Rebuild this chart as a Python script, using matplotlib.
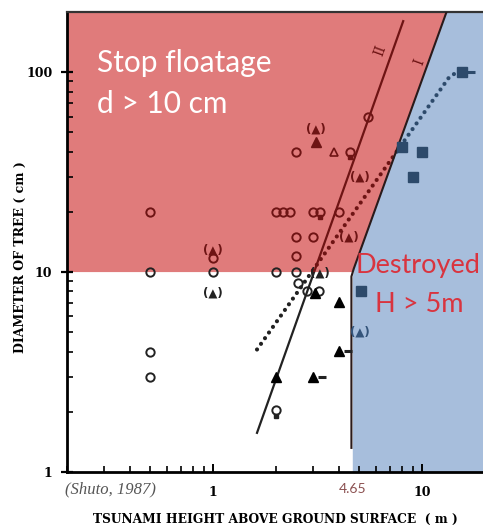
import numpy as np
import matplotlib
matplotlib.use("Agg")
import matplotlib.pyplot as plt
from matplotlib.patches import Polygon

# ---------------- data ----------------
# axis limits
x_min, x_max = 0.2, 19.5
y_min, y_max = 1.0, 200.0
H_limit = 4.65          # tsunami height threshold (m)
d_limit = 10.0          # diameter threshold (cm)
boundary_top = (13.0, 200.0)   # where the red/blue boundary meets the top

# open circles (white region -> black, red region -> dark red)
circ_blk_x = [0.5, 0.5, 0.5, 1.0, 2.0, 2.0, 2.5, 2.55, 2.8, 3.22]
circ_blk_y = [10, 4.0, 3.0, 10, 2.05, 10, 10, 8.8, 8.0, 8.0]
circ_red_x = [0.5, 1.0, 2.0, 2.15, 2.33, 3.0, 3.25, 4.0, 2.5, 3.0, 2.5, 2.5, 4.5, 5.5]
circ_red_y = [20, 11.7, 20, 20, 20, 20, 20, 20, 15, 15, 12, 40, 40, 60]

# small squares under some circles
base_x = [2.0, 3.25, 4.5]
base_y = [1.9, 18.8, 37.5]
base_c = ["#222222", "#6E1414", "#6E1414"]

# filled triangles
tri_blk_x = [2.0, 3.0, 4.0, 4.0, 3.06]
tri_blk_y = [3.0, 3.0, 4.05, 7.1, 7.9]
tri_red_x = [3.1]
tri_red_y = [45]
# open triangle
otri_x = [3.8]
otri_y = [40]

# triangles in parentheses "(▲)"
ptri_x = [1.0, 3.1, 5.0, 4.45, 1.0, 3.25, 5.0]
ptri_y = [12.9, 52, 30, 15, 7.9, 9.9, 5.0]
ptri_c = ["#6E1414", "#6E1414", "#6E1414", "#6E1414", "#222222", "#222222", "#34547A"]

# squares (destroyed)
sq_x = [5.1, 8.0, 10.0, 9.0, 15.5]
sq_y = [8.0, 42, 40, 30, 100]

# short dashes to the right of some marks
dash_x = [3.0, 4.0, 15.5]
dash_y = [3.0, 4.05, 100]
dash_c = ["#222222", "#222222", "#2D4A6B"]

# fitted lines
lineII_x = [1.62, 8.1]
lineII_y = [1.57, 180]
dotted_x = [1.62, 13.4, 14.5, 15.2]
dotted_y = [4.1, 94, 99.5, 100]
lineI_x = [4.58, 4.58, 4.70, 4.88, 13.05]
lineI_y = [1.32, 9.5, 10.4, 11.6, 200]

# ---------------- figure ----------------
W, H = 483, 527
fig = plt.figure(figsize=(W / 100, H / 100), dpi=100)
ax = fig.add_axes([67 / W, 1 - 472 / H, (W - 67) / W, (472 - 12) / H])
ax.set_xscale("log")
ax.set_yscale("log")
ax.set_xlim(x_min, x_max)
ax.set_ylim(y_min, y_max)

RED_BG = "#E07B7B"
BLUE_BG = "#A7BEDC"
DKRED = "#6E1414"
NAVY = "#2D4A6B"
BLK = "#222222"

# region polygons
corner = [(H_limit, 9.3), (4.70, 10.2), (4.87, 11.5)]
red_poly = [(x_min, d_limit), (H_limit, d_limit), (4.70, 10.2), (4.87, 11.5),
            boundary_top, (x_min, y_max)]
blue_poly = [(H_limit, y_min)] + corner + [boundary_top, (x_max, y_max), (x_max, y_min)]
white_poly = [(x_min, y_min), (H_limit, y_min), (H_limit, d_limit), (x_min, d_limit)]

ax.add_patch(Polygon(red_poly, closed=True, facecolor=RED_BG, edgecolor="none", zorder=0))
ax.add_patch(Polygon(blue_poly, closed=True, facecolor=BLUE_BG, edgecolor="none", zorder=0))


def clipped_line(xs, ys, colors, **kw):
    for poly, col in zip([white_poly, red_poly, blue_poly], colors):
        ln, = ax.plot(xs, ys, color=col, **kw)
        ln.set_clip_path(Polygon(poly, closed=True, transform=ax.transData))


# line II (solid)
clipped_line(lineII_x, lineII_y, [BLK, DKRED, DKRED], lw=1.6, zorder=3)
# dotted line
clipped_line(dotted_x, dotted_y, [BLK, DKRED, NAVY], lw=3.0, ls=(0, (0.01, 1.65)),
             dash_capstyle="round", zorder=3)
# line I
ax.plot(lineI_x, lineI_y, color="#2A1A1A", lw=1.5, zorder=3)

# markers
ms_c = 6.0
ax.plot(circ_blk_x, circ_blk_y, "o", ms=ms_c, mfc="none", mec=BLK, mew=1.4, zorder=5)
ax.plot(circ_red_x, circ_red_y, "o", ms=ms_c, mfc="none", mec=DKRED, mew=1.4, zorder=5)
for x, y, c in zip(base_x, base_y, base_c):
    ax.plot([x], [y], "s", ms=3.0, color=c, zorder=5)
ax.plot(tri_blk_x, tri_blk_y, "^", ms=6.5, color="black", zorder=6)
ax.plot(tri_red_x, tri_red_y, "^", ms=6.5, color=DKRED, zorder=6)
ax.plot(otri_x, otri_y, "^", ms=5.5, mfc="none", mec=DKRED, mew=1.2, zorder=6)
for x, y, c in zip(ptri_x, ptri_y, ptri_c):
    ax.text(x, y, "(\u25B2)", ha="center", va="center", fontsize=8.5,
            family="DejaVu Sans", fontweight="bold", color=c, zorder=6)
ax.plot(sq_x, sq_y, "s", ms=7.0, color=NAVY, zorder=6)
for x, y, c in zip(dash_x, dash_y, dash_c):
    ax.plot([x * 1.1], [y], "_", ms=6, mew=2.2, color=c, zorder=6)

# labels of lines
ax.text(6.3, 128, "II", rotation=70, ha="center", va="center", fontsize=10,
        family="DejaVu Serif", color=DKRED, zorder=7)
ax.text(9.7, 112, "I", rotation=70, ha="center", va="center", fontsize=10,
        family="DejaVu Serif", color=DKRED, zorder=7)

# region texts
fig.text(97 / W, 1 - 63 / H, "Stop floatage", color="white", fontsize=21.5,
         family="Lato", ha="left", va="center")
fig.text(97 / W, 1 - 104 / H, "d > 10 cm", color="white", fontsize=21.5,
         family="Lato", ha="left", va="center")
fig.text(356 / W, 1 - 266 / H, "Destroyed", color="#D9343F", fontsize=19.5,
         family="Lato", ha="left", va="center")
fig.text(375 / W, 1 - 304 / H, "H > 5m", color="#D9343F", fontsize=19.5,
         family="Lato", ha="left", va="center")

# axes styling
for s in ["left", "bottom"]:
    ax.spines[s].set_linewidth(2.0)
    ax.spines[s].set_color("black")
ax.spines["top"].set_linewidth(1.6)
ax.spines["top"].set_color("#333333")
ax.spines["right"].set_visible(False)

ax.set_xticks([1, 10])
ax.set_xticklabels(["1", "10"])
ax.set_yticks([1, 10, 100])
ax.set_yticklabels(["1", "10", "100"])
ax.tick_params(axis="x", which="major", direction="in", length=6, width=1.4, pad=10)
ax.tick_params(axis="x", which="minor", direction="in", length=4, width=1.2)
ax.tick_params(axis="y", which="major", direction="inout", length=9, width=1.6, pad=6)
ax.tick_params(axis="y", which="minor", direction="in", length=4, width=1.2)
ax.tick_params(top=False, right=False, which="both")
for lab in ax.get_xticklabels() + ax.get_yticklabels():
    lab.set_family("DejaVu Serif")
    lab.set_fontweight("bold")
    lab.set_fontsize(9)

# 4.65 and source
fig.text(353 / W, 1 - 489 / H, "4.65", color="#8B5050", fontsize=10,
         family="Lato", ha="center", va="center")
fig.text(65 / W, 1 - 489 / H, "(Shuto, 1987)", color="#555555", fontsize=12,
         family="Liberation Serif", style="italic", ha="left", va="center")

fig.text(275 / W, 1 - 519 / H, "TSUNAMI HEIGHT ABOVE GROUND SURFACE  ( m )",
         fontsize=8.8, family="DejaVu Serif", fontweight="bold", ha="center", va="center")
fig.text(20 / W, 1 - 257 / H, "DIAMETER OF TREE ( cm )", rotation=90,
         fontsize=9, family="DejaVu Serif", fontweight="bold", ha="center", va="center")

fig.savefig("out.png", dpi=100)
